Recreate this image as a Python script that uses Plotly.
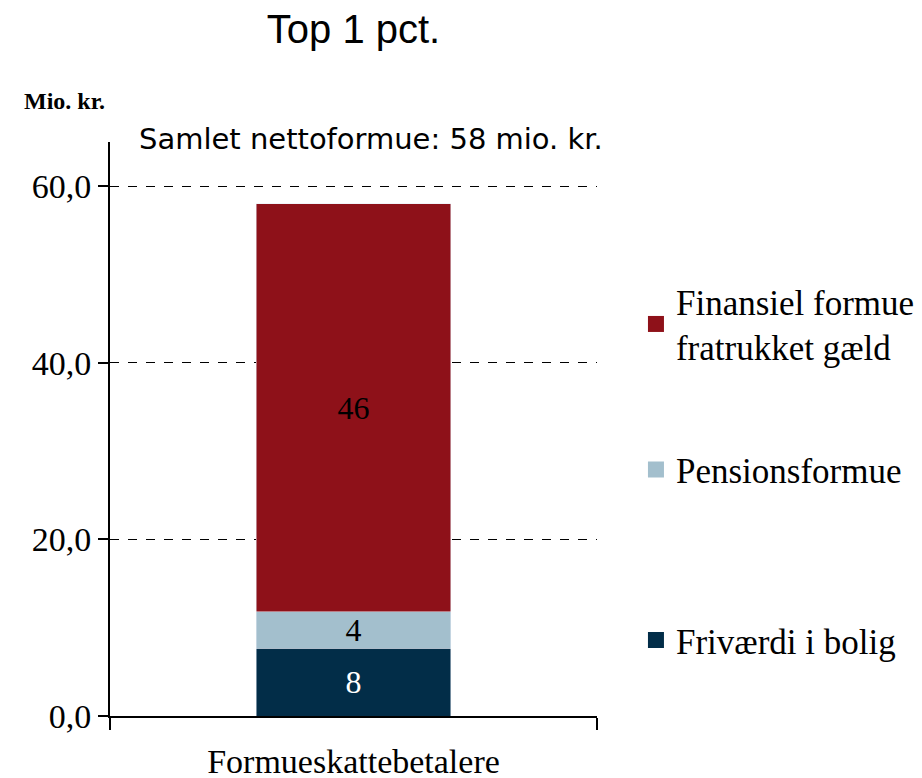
import plotly.graph_objects as go

# ---------------- Data ----------------
category = ["Formueskattebetalere"]
friværdi = [7.7]
pension = [4.1]
finansiel = [46.2]
total_label = "Samlet nettoformue: 58 mio. kr."

series = [
    ("Friværdi i bolig", friværdi, "#022D48", "white", "legend3"),
    ("Pensionsformue", pension, "#A3BFCD", "black", "legend2"),
    ("Finansiel formue<br>fratrukket gæld", finansiel, "#8E1119", "black", "legend"),
]

serif = "Liberation Serif"

fig = go.Figure()
for name, vals, color, txtcolor, lg in series:
    fig.add_trace(go.Bar(
        x=category, y=vals, name=name, marker_color=color,
        texttemplate="%{y:.0f}", textposition="inside",
        insidetextanchor="middle", textangle=0, constraintext="none",
        textfont=dict(color=txtcolor, size=32, family=serif),
        showlegend=False,
    ))
    # square legend marker
    fig.add_trace(go.Scatter(
        x=[None], y=[None], mode="markers", name=name, legend=lg,
        marker=dict(symbol="square", size=18, color=color),
    ))

leg = dict(x=1.08, xanchor="left", yanchor="middle", bgcolor="rgba(0,0,0,0)",
           font=dict(family=serif, size=35, color="black"))

fig.update_layout(
    width=922, height=778,
    barmode="stack", bargap=0.6,
    showlegend=True,
    plot_bgcolor="white", paper_bgcolor="white",
    margin=dict(l=102, r=333, t=134, b=70, autoexpand=False),
    separators=",.",
    title=dict(text="Top 1 pct.", x=0.5, xref="paper", xanchor="center",
               y=0.973, yanchor="middle",
               font=dict(family="Liberation Sans", size=40, color="black")),
    legend=dict(leg, y=0.683),
    legend2=dict(leg, y=0.429),
    legend3=dict(leg, y=0.132),
    xaxis=dict(showline=True, linecolor="black", linewidth=2, automargin=False,
               ticks="outside", tickson="boundaries", ticklen=12, tickwidth=2,
               tickcolor="black", ticklabelstandoff=14,
               tickfont=dict(family=serif, size=34, color="black")),
    yaxis=dict(range=[0, 65], tickvals=[0, 20, 40, 60], tickformat=".1f",
               showline=True, linecolor="black", linewidth=2, automargin=False,
               ticks="outside", ticklen=10, tickwidth=2, tickcolor="black",
               showgrid=True, gridcolor="black", griddash="dash", gridwidth=1.3,
               zeroline=False,
               tickfont=dict(family=serif, size=34, color="black")),
    annotations=[
        dict(text="<b>Mio. kr.</b>", xref="paper", yref="paper", x=-0.18, y=1.072,
             xanchor="left", yanchor="middle", showarrow=False,
             font=dict(family=serif, size=24, color="black")),
        dict(text=total_label, xref="paper", yref="paper", x=0.055, y=1.005,
             xanchor="left", yanchor="middle", showarrow=False,
             font=dict(family="DejaVu Sans", size=29, color="black")),
    ],
)

fig.write_html("out.html")
